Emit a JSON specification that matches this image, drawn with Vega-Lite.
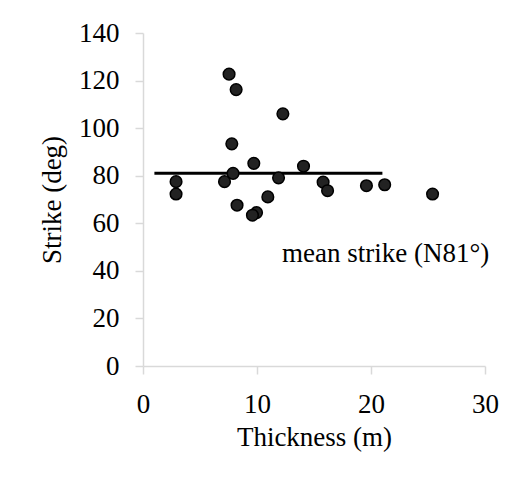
{
  "$schema": "https://vega.github.io/schema/vega-lite/v6.json",
  "width": 342,
  "height": 333,
  "autosize": {"type": "none"},
  "padding": {"left": 143, "top": 33, "right": 31, "bottom": 116},
  "background": "white",
  "config": {
    "view": {"stroke": null},
    "font": "Liberation Serif",
    "axis": {
      "grid": false,
      "labelFlush": false,
      "domainColor": "#d9d9d9",
      "domainWidth": 1.5,
      "tickColor": "#d9d9d9",
      "tickWidth": 1.5,
      "tickSize": 8,
      "labelFont": "Liberation Serif",
      "labelFontSize": 27,
      "labelColor": "black",
      "titleFont": "Liberation Serif",
      "titleFontSize": 27,
      "titleFontWeight": "normal",
      "titleColor": "black"
    }
  },
  "datasets": {
    "points": [
      {"thickness": 2.9, "strike": 77.5},
      {"thickness": 2.9, "strike": 72.3},
      {"thickness": 7.55, "strike": 122.7},
      {"thickness": 8.17, "strike": 116.2},
      {"thickness": 12.27, "strike": 106},
      {"thickness": 7.79, "strike": 93.4},
      {"thickness": 9.72, "strike": 85.2},
      {"thickness": 7.9, "strike": 81.0},
      {"thickness": 7.15, "strike": 77.5},
      {"thickness": 11.89, "strike": 79.1},
      {"thickness": 14.08, "strike": 84.0},
      {"thickness": 8.25, "strike": 67.6},
      {"thickness": 10.95, "strike": 71.1},
      {"thickness": 9.96, "strike": 64.5},
      {"thickness": 9.6, "strike": 63.4},
      {"thickness": 15.8, "strike": 77.3},
      {"thickness": 16.19, "strike": 73.7},
      {"thickness": 19.6, "strike": 75.8},
      {"thickness": 21.2, "strike": 76.2},
      {"thickness": 25.4, "strike": 72.3}
    ],
    "mean": [
      {"thickness": 1, "strike": 81},
      {"thickness": 21, "strike": 81}
    ],
    "note": [
      {"thickness": 12.2, "strike": 47, "label": "mean strike (N81°)"}
    ]
  },
  "layer": [
    {
      "data": {"name": "mean"},
      "mark": {"type": "line", "color": "black", "strokeWidth": 3},
      "encoding": {
        "x": {"field": "thickness", "type": "quantitative", "scale": {"domain": [0, 30]}, "axis": {"values": [0, 10, 20, 30], "title": "Thickness (m)", "labelPadding": 17, "titlePadding": 7}},
        "y": {"field": "strike", "type": "quantitative", "scale": {"domain": [0, 140]}, "axis": {"values": [0, 20, 40, 60, 80, 100, 120, 140], "title": "Strike (deg)", "labelPadding": 16, "titlePadding": 12}}
      }
    },
    {
      "data": {"name": "points"},
      "mark": {"type": "point", "shape": "circle", "filled": true, "fill": "#222222", "stroke": "black", "strokeWidth": 1.5, "size": 135, "opacity": 1},
      "encoding": {
        "x": {"field": "thickness", "type": "quantitative"},
        "y": {"field": "strike", "type": "quantitative"}
      }
    },
    {
      "data": {"name": "note"},
      "mark": {"type": "text", "align": "left", "baseline": "middle", "fontSize": 27, "font": "Liberation Serif", "color": "black"},
      "encoding": {
        "x": {"field": "thickness", "type": "quantitative"},
        "y": {"field": "strike", "type": "quantitative"},
        "text": {"field": "label"}
      }
    }
  ]
}
